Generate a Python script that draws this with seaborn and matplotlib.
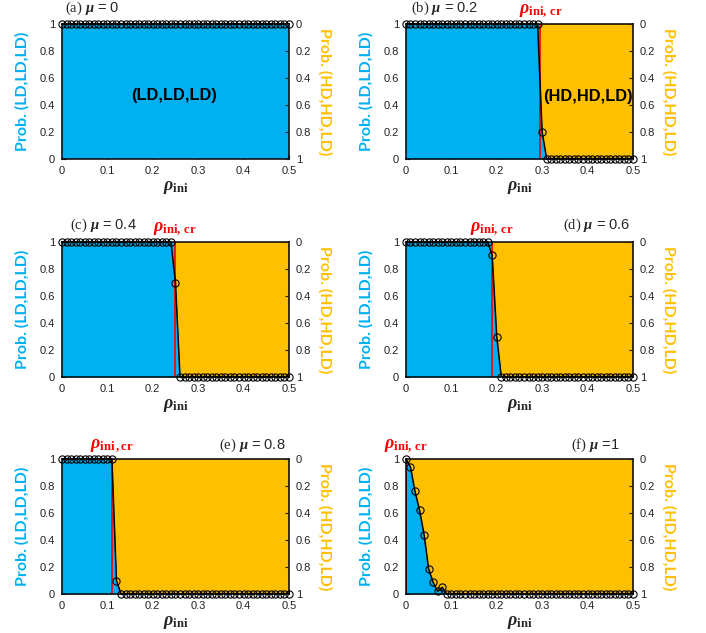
import numpy as np
import seaborn as sns
import matplotlib
import matplotlib.pyplot as plt
import matplotlib.transforms as mtransforms

# density grid (0 ... 0.5, step 0.01)
rho_ini = np.round(np.arange(0, 0.501, 0.01), 2)

# probability of (LD,LD,LD)
prob_a = [1.0] * 51
prob_b = [1.0] * 30 + [0.2] + [0.0] * 20
prob_c = [1.0] * 25 + [0.7] + [0.0] * 25
prob_d = [1.0] * 19 + [0.9, 0.3] + [0.0] * 30
prob_e = [1.0] * 12 + [0.1] + [0.0] * 38
prob_f = [1.0, 0.94, 0.76, 0.62, 0.44, 0.185, 0.086, 0.02, 0.05] + [0.0] * 42

panel_tags = ["(a)", "(b)", "(c)", "(d)", "(e)", "(f)"]
mu_labels = ["= 0", "= 0.2", "= 0.4", "= 0.6", "= 0.8", "=1"]
rho_cr = [None, 0.296, 0.248, 0.19, 0.11, 0.0]
cr_labels = [None, r"$\rho_{\mathbf{ini,\,cr}}$", r"$\rho_{\mathbf{ini,\,cr}}$",
             r"$\rho_{\mathbf{ini,\,cr}}$", r"$\rho_{\mathbf{ini\,,cr}}$",
             r"$\rho_{\mathbf{ini,\,cr}}$"]
probs = [prob_a, prob_b, prob_c, prob_d, prob_e, prob_f]

xticks = [0, 0.1, 0.2, 0.3, 0.4, 0.5]
xtick_labels = ["0", "0.1", "0.2", "0.3", "0.4", "0.5"]
yticks = [0, 0.2, 0.4, 0.6, 0.8, 1]
ytick_labels = ["0", "0.2", "0.4", "0.6", "0.8", "1"]

BLUE = "#00B0F0"
YELLOW = "#FFC000"

sns.set_style("ticks")
plt.rcParams['font.family'] = ['Liberation Sans', 'DejaVu Sans']
plt.rcParams['mathtext.fontset'] = 'custom'
plt.rcParams['mathtext.rm'] = 'Liberation Serif'
plt.rcParams['mathtext.it'] = 'Liberation Serif:italic:bold'
plt.rcParams['mathtext.bf'] = 'Liberation Serif:bold'
plt.rcParams['mathtext.sf'] = 'Liberation Sans'

fig = plt.figure(figsize=(7.06, 6.33), dpi=100)

# axes boxes (left, bottom, width, height) in figure fraction
lefts = [0.0878, 0.575]
bottoms = [0.749, 0.4044, 0.0616]
w, h = 0.3215, 0.2133

# title placement (x in axes fraction, y, alignment)
title_pos = [(0.013, 1.118, "left"), (0.022, 1.118, "left"),
             (0.035, 1.12, "left"), (0.987, 1.12, "right"),
             (0.987, 1.10, "right"), (0.94, 1.10, "right")]

for i in range(6):
    ax = fig.add_axes([lefts[i % 2], bottoms[i // 2], w, h])
    y = np.array(probs[i])
    xcr = rho_cr[i]

    if xcr is None:
        ax.axvspan(0, 0.5, color=BLUE, lw=0)
    else:
        ax.axvspan(xcr, 0.5, color=YELLOW, lw=0)
        if xcr > 0:
            ax.axvspan(0, xcr, color=BLUE, lw=0)
    ax.fill_between(rho_ini, 0, y, color=BLUE, lw=0)
    if xcr is not None:
        ax.axvline(xcr, color="red", lw=1.2, zorder=3)

    sns.lineplot(x=rho_ini, y=y, ax=ax, color="black", lw=1.1,
                 marker="o", markersize=5.2, markerfacecolor="none",
                 markeredgecolor="black", markeredgewidth=0.8,
                 clip_on=False, zorder=4)

    ax.set_xlim(0, 0.5)
    ax.set_ylim(0, 1)
    ax.set_xticks(xticks)
    ax.set_xticklabels(xtick_labels)
    ax.set_yticks(yticks)
    ax.set_yticklabels(ytick_labels)
    ax.tick_params(direction="in", length=3, width=0.8, labelsize=8, pad=5,
                   colors="#222222")
    for s in ax.spines.values():
        s.set_linewidth(1.1)
        s.set_color("black")
        s.set_zorder(5)

    ax.set_xlabel(r"$\rho_{\mathbf{ini}}$", fontsize=13, labelpad=2)
    ax.set_ylabel("Prob. (LD,LD,LD)", color=BLUE, fontfamily="Lato",
                  fontweight="bold", fontsize=11.5, labelpad=7)

    ax2 = ax.twinx()
    ax2.set_ylim(1, 0)
    ax2.set_yticks(yticks)
    ax2.set_yticklabels(ytick_labels)
    ax2.tick_params(direction="in", length=3, width=0.8, labelsize=8, pad=5,
                    colors="#222222")
    for s in ax2.spines.values():
        s.set_visible(False)
    ax2.set_ylabel("Prob. (HD,HD,LD)", color=YELLOW, fontfamily="Lato",
                   fontweight="bold", fontsize=11.5, rotation=-90, labelpad=15)

    tx, ty, ha = title_pos[i]
    ax.text(tx, ty, r"$\mathrm{" + panel_tags[i] + r"}\ \mu$ " + mu_labels[i],
            transform=ax.transAxes, ha=ha, va="center", fontsize=10.5)

    if xcr is not None:
        trans = mtransforms.blended_transform_factory(ax.transData, ax.transAxes)
        ax.text(xcr, 1.09, cr_labels[i], transform=trans, ha="center",
                va="center", color="red", fontsize=13)

    if i == 0:
        ax.text(0.247, 0.47, "(LD,LD,LD)", ha="center", va="center",
                fontsize=11.8, fontweight="bold", color="black")
    if i == 1:
        ax.text(0.40, 0.46, "(HD,HD,LD)", ha="center", va="center",
                fontsize=11.8, fontweight="bold", color="black")

fig.savefig("out.png", dpi=100)
